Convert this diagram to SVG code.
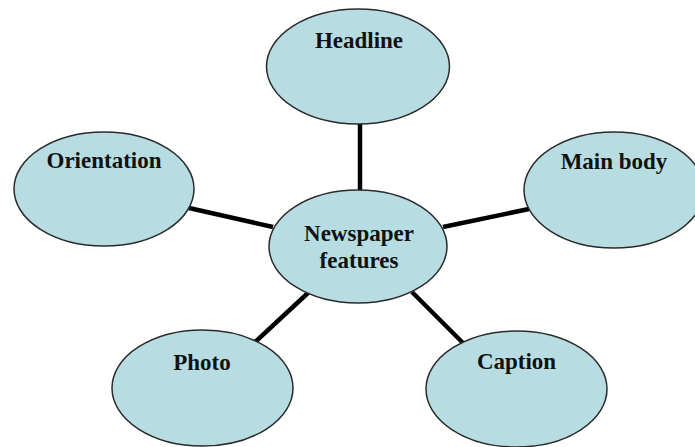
<svg xmlns="http://www.w3.org/2000/svg" width="695" height="447" viewBox="0 0 695 447">
<style>
.node ellipse{fill:#b7dde3;stroke:#2a2a2a;stroke-width:1.5}
.node text{font-family:"Liberation Serif","Times New Roman",serif;font-weight:bold;font-size:23px;fill:#111;text-anchor:middle}
.conn line{stroke:#000;stroke-width:4.5;stroke-linecap:butt}
</style>
<rect width="695" height="447" fill="#fff"/>
<g id="connectors" class="conn">
<line x1="360" y1="122" x2="360" y2="192"/>
<line x1="189" y1="208" x2="273" y2="227"/>
<line x1="443" y1="227" x2="529" y2="209"/>
<line x1="309" y1="292" x2="254" y2="343"/>
<line x1="412" y1="292" x2="464" y2="344"/>
</g>
<g id="headline" class="node">
<ellipse cx="358" cy="66.5" rx="91.5" ry="57.5"/>
<text x="359" y="48">Headline</text>
</g>
<g id="orientation" class="node">
<ellipse cx="104" cy="189" rx="90" ry="57"/>
<text x="104" y="168">Orientation</text>
</g>
<g id="mainbody" class="node">
<ellipse cx="614" cy="190" rx="90" ry="58"/>
<text x="614" y="169">Main body</text>
</g>
<g id="center" class="node">
<ellipse cx="358" cy="246.5" rx="89" ry="56.5"/>
<text x="359" y="241">Newspaper</text>
<text x="359" y="268">features</text>
</g>
<g id="photo" class="node">
<ellipse cx="202.5" cy="388" rx="90.5" ry="58"/>
<text x="202" y="370">Photo</text>
</g>
<g id="caption" class="node">
<ellipse cx="516.5" cy="389" rx="90.5" ry="58"/>
<text x="516.5" y="369">Caption</text>
</g>
</svg>
